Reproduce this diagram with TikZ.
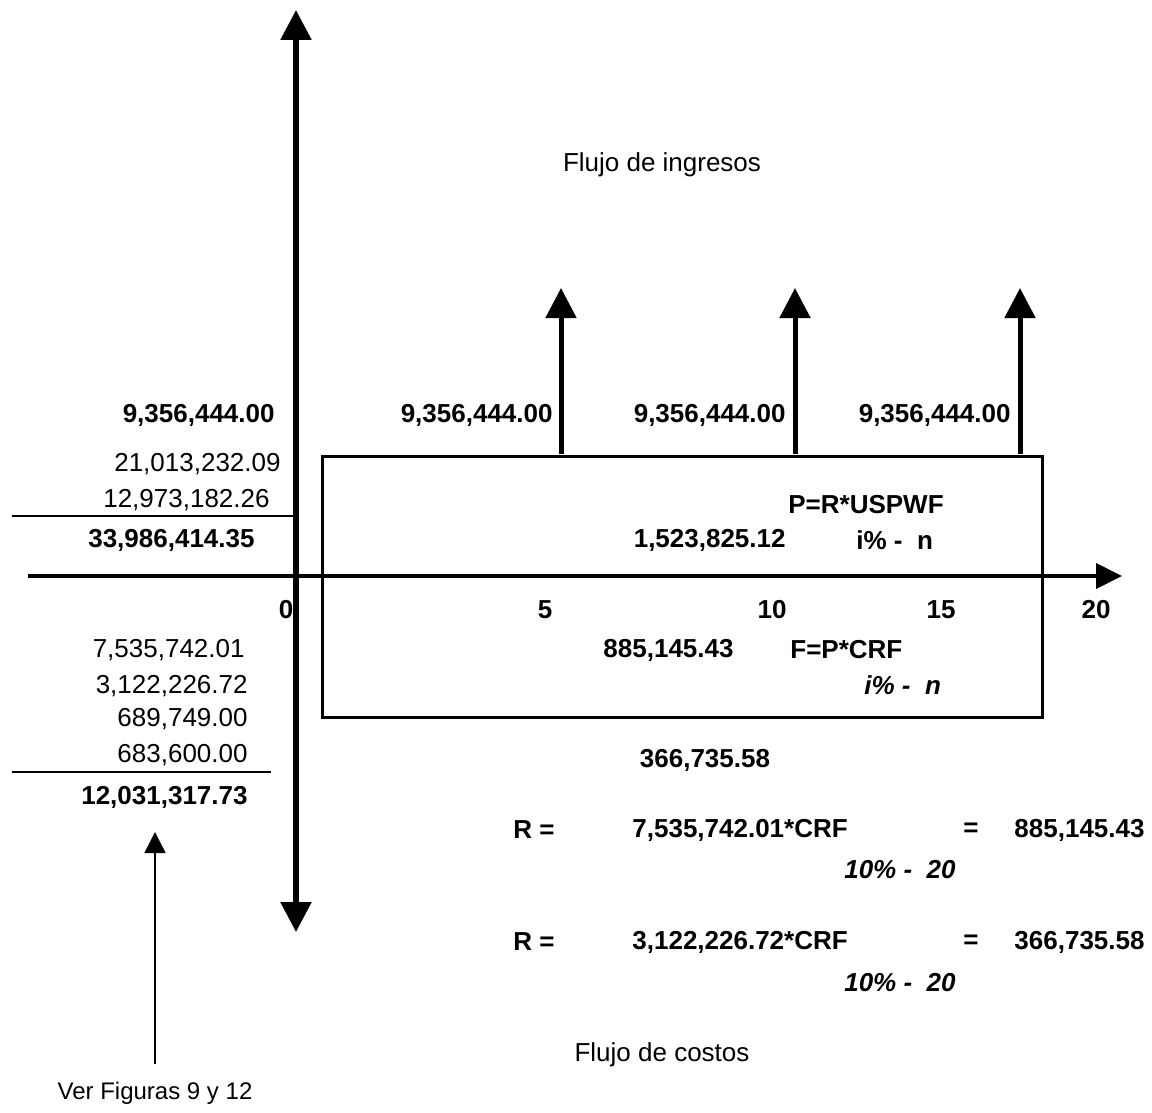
\documentclass[tikz,border=0pt]{standalone}
\usepackage{fontspec}
\setmainfont{Liberation Sans}
\usetikzlibrary{arrows.meta}
\begin{document}
\begin{tikzpicture}[x=0.5pt,y=-0.5pt,
  txt/.style={font=\fontsize{13}{15}\selectfont, inner sep=0pt},
  btxt/.style={font=\fontsize{13}{15}\selectfont\bfseries, inner sep=0pt},
  bitxt/.style={font=\fontsize{13}{15}\selectfont\bfseries\itshape, inner sep=0pt},
  axisline/.style={line width=2.75pt, {Triangle[width=15pt,length=15pt]}-{Triangle[width=15pt,length=15pt]}},
  haxis/.style={line width=2pt, -{Triangle[width=12.5pt,length=13pt]}},
  flow/.style={line width=2.5pt, -{Triangle[width=15pt,length=15pt]}},
  boxline/.style={line width=1.5pt},
  rule/.style={line width=0.75pt},
  pointer/.style={line width=0.75pt, -{Triangle[width=10.5pt,length=10.5pt]}}]
\useasboundingbox (0,0) rectangle (1152,1113);

% time axes
\coordinate (vtop) at (296,10);
\coordinate (vbot) at (296,932);
\draw[axisline] (vbot) -- (vtop);
\coordinate (hleft) at (28,576);
\coordinate (hright) at (1122,576);
\draw[haxis] (hleft) -- (hright);

% annuity box
\coordinate (boxNW) at (322,456);
\coordinate (boxSE) at (1042,717);
\draw[boxline] (boxNW) rectangle (boxSE);

% income arrows
\coordinate (f1b) at (561,454); \coordinate (f1t) at (561,288);
\coordinate (f2b) at (795,454); \coordinate (f2t) at (795,288);
\coordinate (f3b) at (1020,454); \coordinate (f3t) at (1020,288);
\draw[flow] (f1b) -- (f1t);
\draw[flow] (f2b) -- (f2t);
\draw[flow] (f3b) -- (f3t);

\node[txt] (ingresos) at (662,165) {Flujo de ingresos};

\node[btxt, anchor=east] (r0) at (275,415) {9,356,444.00};
\node[btxt, anchor=east] (r1) at (553,415) {9,356,444.00};
\node[btxt, anchor=east] (r2) at (786,415) {9,356,444.00};
\node[btxt, anchor=east] (r3) at (1011,415) {9,356,444.00};

% present worth summary
\node[txt, anchor=east] (pw1) at (281,464) {21,013,232.09};
\node[txt, anchor=east] (pw2) at (270,500) {12,973,182.26};
\coordinate (rule1a) at (12,516); \coordinate (rule1b) at (295,516);
\draw[rule] (rule1a) -- (rule1b);
\node[btxt, anchor=east] (pwsum) at (255,540) {33,986,414.35};

\node[btxt] (uspwf) at (866,505) {P=R*USPWF};
\node[btxt, anchor=east] (pval) at (786,540) {1,523,825.12};
\node[btxt, anchor=west] (pin) at (856,540) {i\%\ -\ \ n};

% period labels
\node[btxt] (t0) at (286,610) {0};
\node[btxt] (t5) at (545,610) {5};
\node[btxt] (t10) at (772,610) {10};
\node[btxt] (t15) at (941,610) {15};
\node[btxt] (t20) at (1096,610) {20};

% cost summary
\node[txt, anchor=east] (c1) at (245,650) {7,535,742.01};
\node[txt, anchor=east] (c2) at (248,686) {3,122,226.72};
\node[txt, anchor=east] (c3) at (248,719) {689,749.00};
\node[txt, anchor=east] (c4) at (248,755) {683,600.00};
\coordinate (rule2a) at (12,772); \coordinate (rule2b) at (271,772);
\draw[rule] (rule2a) -- (rule2b);
\node[btxt, anchor=east] (csum) at (248,797) {12,031,317.73};

\node[btxt, anchor=east] (fval) at (734,650) {885,145.43};
\node[btxt, anchor=west] (crf) at (790,650) {F=P*CRF};
\node[bitxt, anchor=west] (fin) at (864,685) {i\%\ -\ \ n};
\node[btxt] (rval) at (705,760) {366,735.58};

% capital recovery computations
\node[btxt, anchor=west] (eqa1) at (513,830) {R =};
\node[btxt, anchor=west] (eqa2) at (632,830) {7,535,742.01*CRF};
\node[btxt] (eqa3) at (971,830) {=};
\node[btxt, anchor=east] (eqa4) at (1145,830) {885,145.43};
\node[bitxt, anchor=east] (eqa5) at (956,870) {10\%\ -\ \ 20};

\node[btxt, anchor=west] (eqb1) at (513,942) {R =};
\node[btxt, anchor=west] (eqb2) at (632,942) {3,122,226.72*CRF};
\node[btxt] (eqb3) at (971,942) {=};
\node[btxt, anchor=east] (eqb4) at (1145,942) {366,735.58};
\node[bitxt, anchor=east] (eqb5) at (956,983) {10\%\ -\ \ 20};

\node[txt] (costos) at (662,1055) {Flujo de costos};

% reference pointer
\node[txt, font=\fontsize{12}{14}\selectfont] (ver) at (155,1093) {Ver Figuras 9 y 12};
\coordinate (ptail) at (155,1064);
\coordinate (phead) at (155,832);
\draw[pointer] (ptail) -- (phead);
\end{tikzpicture}
\end{document}
